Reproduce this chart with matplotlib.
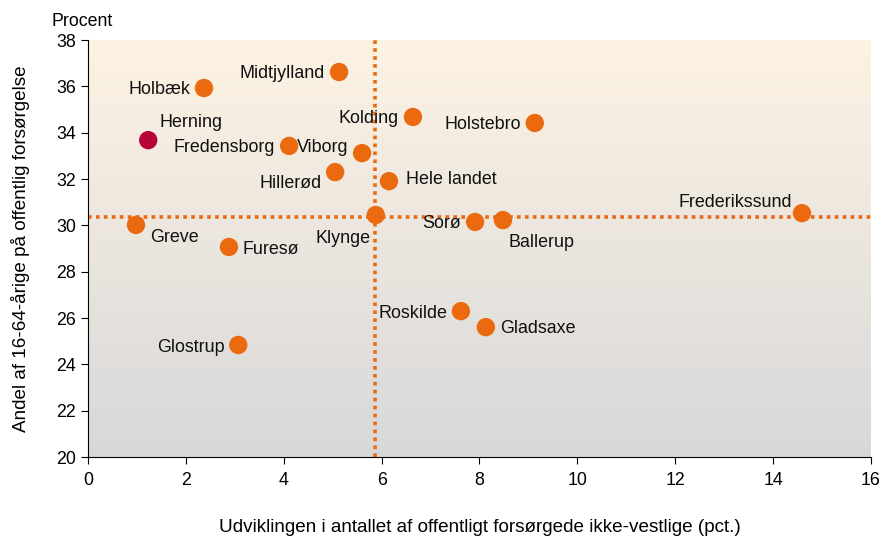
import numpy as np
import matplotlib.pyplot as plt

plt.rcParams['font.family'] = ['Liberation Sans', 'DejaVu Sans']

# Data
names = ['Holbæk', 'Midtjylland', 'Herning', 'Kolding', 'Holstebro', 'Fredensborg',
         'Viborg', 'Hillerød', 'Hele landet', 'Klynge', 'Greve', 'Furesø', 'Sorø',
         'Ballerup', 'Frederikssund', 'Roskilde', 'Gladsaxe', 'Glostrup']
x_vals = [2.37, 5.13, 1.23, 6.64, 9.13, 4.11, 5.60, 5.05, 6.15, 5.88, 0.98, 2.88,
          7.91, 8.48, 14.59, 7.62, 8.13, 3.07]
y_vals = [35.93, 36.62, 33.68, 34.68, 34.42, 33.43, 33.12, 32.30, 31.91, 30.45,
          30.02, 29.07, 30.15, 30.23, 30.53, 26.30, 25.61, 24.84]
highlight = 'Herning'
x_ref = 5.86   # Klynge reference lines
y_ref = 30.36

# label placement (offset in points, alignment)
label_pos = {
    'Holbæk': (-10, -1, 'right'),
    'Midtjylland': (-10, -1, 'right'),
    'Herning': (8, 13, 'left'),
    'Kolding': (-10, -1, 'right'),
    'Holstebro': (-10, -1, 'right'),
    'Fredensborg': (-10, -1, 'right'),
    'Viborg': (-10, 4, 'right'),
    'Hillerød': (-10, -8, 'right'),
    'Hele landet': (12, 1, 'left'),
    'Klynge': (-4, -17, 'right'),
    'Greve': (10, -9, 'left'),
    'Furesø': (10, -2, 'left'),
    'Sorø': (-10, -1, 'right'),
    'Ballerup': (4, -16, 'left'),
    'Frederikssund': (-7, 8, 'right'),
    'Roskilde': (-10, -2, 'right'),
    'Gladsaxe': (10, -1, 'left'),
    'Glostrup': (-10, -2, 'right'),
}

orange = '#EB6A10'
red = '#B4043A'

fig = plt.figure(figsize=(8.82, 5.41), dpi=100)
ax = fig.add_axes([0.0998, 0.155, 0.8877, 0.771])

# gradient background
grad = np.linspace(0, 1, 256).reshape(-1, 1)
top = np.array([253, 243, 227]) / 255
bottom = np.array([216, 216, 218]) / 255
img = top[None, None, :] * (1 - grad[:, :, None]) + bottom[None, None, :] * grad[:, :, None]
ax.imshow(img, extent=[0, 1, 0, 1], transform=ax.transAxes, aspect='auto', zorder=0)

ax.axvline(x_ref, color=orange, linestyle=(0, (1, 1.2)), linewidth=2.6, zorder=1)
ax.axhline(y_ref, color=orange, linestyle=(0, (1, 1.2)), linewidth=2.6, zorder=1)

colors = [red if n == highlight else orange for n in names]
ax.scatter(x_vals, y_vals, s=175, c=colors, edgecolors='none', zorder=3)

for n, xv, yv in zip(names, x_vals, y_vals):
    dx, dy, ha = label_pos[n]
    ax.annotate(n, (xv, yv), xytext=(dx, dy), textcoords='offset points',
                ha=ha, va='center', fontsize=12.9, color='#111111', zorder=4)

ax.set_xlim(0, 16)
ax.set_ylim(20, 38)
ax.set_xticks(np.arange(0, 17, 2))
ax.set_yticks(np.arange(20, 39, 2))
ax.tick_params(direction='out', length=5, labelsize=12.8, colors='black')
ax.tick_params(axis='x', pad=6)
ax.spines['top'].set_visible(False)
ax.spines['right'].set_visible(False)

ax.set_xlabel('Udviklingen i antallet af offentligt forsørgede ikke-vestlige (pct.)',
              fontsize=13.6, labelpad=21)
ax.set_ylabel('Andel af 16-64-årige på offentlig forsørgelse', fontsize=13.6, labelpad=19)
fig.text(0.093, 0.96, 'Procent', fontsize=12.8, ha='center', va='center')

fig.savefig('out.png', dpi=100)
